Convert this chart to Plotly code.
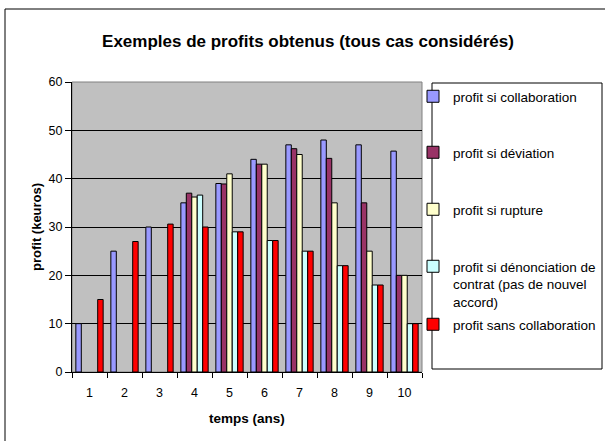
import plotly.graph_objects as go

categories = ["1", "2", "3", "4", "5", "6", "7", "8", "9", "10"]
collaboration = [10, 25, 30, 35, 39, 44, 47, 48, 47, 45.7]
deviation = [None, None, None, 37, 38.9, 43, 46.2, 44.2, 35, 20]
rupture = [None, None, None, 36.2, 41, 43, 45, 35, 25, 20]
denonciation = [None, None, None, 36.6, 29, 27.2, 25, 22, 18, 10]
sans_collab = [15, 27, 30.6, 30, 29, 27.2, 25, 22, 18, 10]

names = [
    "profit si collaboration",
    "profit si déviation",
    "profit si rupture",
    "profit si dénonciation de<br>contrat (pas de nouvel<br>accord)",
    "profit sans collaboration",
]
colors = ["#9999FF", "#993366", "#FFFFCC", "#CCFFFF", "#FF0000"]
series = [collaboration, deviation, rupture, denonciation, sans_collab]

W, H = 605, 441
L, R, T, B = 72, 183, 82, 69
PW, PH = W - L - R, H - T - B

def px(x):
    return (x - L) / PW

def py(y):
    return (H - B - y) / PH

FONT = "Arial, Liberation Sans, sans-serif"

fig = go.Figure()
legend_ids = ["legend", "legend2", "legend3", "legend4", "legend5"]
for name, col, vals, lid in zip(names, colors, series, legend_ids):
    fig.add_trace(go.Bar(
        x=categories, y=vals, name=name,
        marker=dict(color=col, line=dict(color="black", width=1)),
        legend=lid,
    ))

# legend item positions (pixel centre of first text line)
leg_y = [97, 153, 210, 267, 325]
leg_layout = {}
for lid, yc in zip(legend_ids, leg_y):
    leg_layout[lid] = dict(
        x=px(413), y=py(yc - 16), xanchor="left", yanchor="top",
        bgcolor="rgba(0,0,0,0)", borderwidth=0,
        font=dict(family=FONT, size=13.5, color="black"),
        valign="top", itemwidth=30,
    )

fig.update_layout(
    width=W, height=H,
    margin=dict(l=L, r=R, t=T, b=B, autoexpand=False),
    paper_bgcolor="white",
    plot_bgcolor="#C0C0C0",
    barmode="group",
    bargap=0.22,
    bargroupgap=0,
    font=dict(family=FONT, size=12, color="black"),
    title=dict(
        text="<b>Exemples de profits obtenus (tous cas considérés)</b>",
        x=308 / W, xanchor="center", y=1 - 41 / H, yanchor="middle",
        xref="container", yref="container",
        font=dict(family=FONT, size=17, color="black"),
    ),
    xaxis=dict(
        type="category", tickson="boundaries", ticks="outside", ticklen=5,
        tickcolor="black", showline=True, ticklabelstandoff=9,
        linecolor="black", linewidth=1, showgrid=False, zeroline=False,
        tickfont=dict(family=FONT, size=12.5, color="black"),
    ),
    yaxis=dict(
        range=[0, 60], dtick=10, ticks="outside", ticklen=6, tickcolor="black",
        showline=True, linecolor="black", linewidth=1,
        showgrid=True, gridcolor="black", gridwidth=1, zeroline=False,
        tickfont=dict(family=FONT, size=12.5, color="black"),
    ),
    showlegend=True,
    hovermode=False,
    **leg_layout,
)

annotations = [
    dict(text="<b>profit (keuros)</b>", x=px(36), y=py(227), xref="paper", yref="paper",
         textangle=-90, showarrow=False, xanchor="center", yanchor="middle",
         font=dict(family=FONT, size=13, color="black")),
    dict(text="<b>temps (ans)</b>", x=px(247), y=py(418), xref="paper", yref="paper",
         showarrow=False, xanchor="center", yanchor="middle",
         font=dict(family=FONT, size=13.5, color="black")),
]
fig.update_layout(annotations=annotations)

shapes = [
    dict(type="rect", xref="paper", yref="paper", x0=0, x1=1, y0=0, y1=1,
         line=dict(color="#808080", width=1), layer="below"),
    dict(type="rect", xref="paper", yref="paper", x0=px(432), x1=px(602),
         y0=py(369), y1=py(83), line=dict(color="black", width=1),
         fillcolor="rgba(0,0,0,0)"),
    dict(type="rect", xref="paper", yref="paper", x0=px(5), x1=px(610),
         y0=py(450), y1=py(9), line=dict(color="black", width=1),
         fillcolor="rgba(0,0,0,0)"),
]
fig.update_layout(shapes=shapes)

fig.write_html("out.html", config={"displayModeBar": False},
               post_script="document.body.style.margin='0';")
